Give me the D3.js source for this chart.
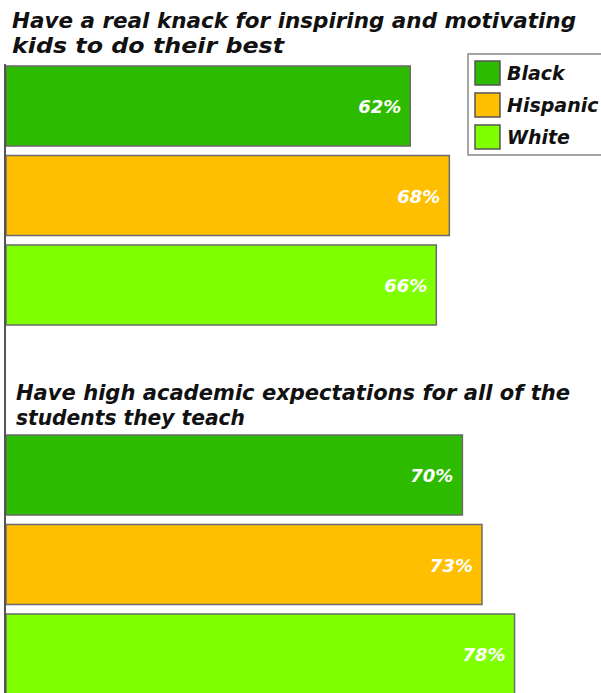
<!DOCTYPE html>
<html>
<head>
<meta charset="utf-8">
<script src="https://cdn.jsdelivr.net/npm/d3@7"></script>
<style>
  body { margin: 0; background: #fff; }
  svg { display: block; }
</style>
</head>
<body>
<svg id="chart" width="601" height="693"></svg>
<script>
// Survey bars: two questions, three groups each
var groups = ["Black", "Hispanic", "White"];
var knackTitle = ["Have a real knack for inspiring and motivating", "kids to do their best"];
var expectTitle = ["Have high academic expectations for all of the", "students they teach"];
var knackValues = [62, 68, 66];
var expectValues = [70, 73, 78];
var groupColors = ["#2dbb00", "#ffbf00", "#80ff00"];

var svg = d3.select('#chart');
var titleFont = "'DejaVu Sans', sans-serif";

var x = d3.scaleLinear()
    .domain([0, 100])
    .range([6, 658]);

var color = d3.scaleOrdinal()
    .domain(groups)
    .range(groupColors);

function drawPanel(title, values, titleY, titleX, titleWidths, barTop) {
    let y = d3.scaleBand()
        .domain(groups)
        .range([barTop, barTop + 259])
        .paddingInner(0.106);

    let g = svg.append('g');

    g.selectAll('text.title')
        .data(title)
        .enter()
    .append('text')
        .attr('class', 'title')
        .attr('x', titleX)
        .attr('y', function (d, i) { return titleY + i * 25; })
        .attr('textLength', function (d, i) { return titleWidths[i]; })
        .attr('lengthAdjust', 'spacingAndGlyphs')
        .attr('font-family', titleFont)
        .attr('font-size', 21)
        .attr('font-weight', 'bold')
        .attr('font-style', 'italic')
        .attr('fill', '#111')
        .text(function (d) { return d; });

    let rows = groups.map(function (k, i) { return { group: k, value: values[i] }; });

    g.selectAll('rect.bar')
        .data(rows)
        .enter()
    .append('rect')
        .attr('class', 'bar')
        .attr('x', x(0))
        .attr('y', function (d) { return y(d.group); })
        .attr('width', function (d) { return x(d.value) - x(0); })
        .attr('height', y.bandwidth())
        .attr('fill', function (d) { return color(d.group); })
        .style('stroke', '#6a6a6a')
        .style('stroke-width', 1.5);

    g.selectAll('text.value')
        .data(rows)
        .enter()
    .append('text')
        .attr('class', 'value')
        .attr('x', function (d) { return x(d.value) - 9; })
        .attr('y', function (d) { return y(d.group) + y.bandwidth() / 2 + 7; })
        .attr('text-anchor', 'end')
        .attr('font-family', titleFont)
        .attr('font-size', 18)
        .attr('font-weight', 'bold')
        .attr('font-style', 'italic')
        .attr('fill', '#fff')
        .text(function (d) { return d.value + '%'; });
}

drawPanel(knackTitle, knackValues, 28, 12, [564, 272], 66);
drawPanel(expectTitle, expectValues, 400, 16, [554, 229], 435);

// left axis line
svg.append('line')
    .attr('x1', 5)
    .attr('x2', 5)
    .attr('y1', 64)
    .attr('y2', 693)
    .style('stroke', '#555')
    .style('stroke-width', 2);

// legend
var legend = svg.append('g').attr('transform', 'translate(468, 54)');
legend.append('rect')
    .attr('x', 0)
    .attr('y', 0)
    .attr('width', 140)
    .attr('height', 101)
    .style('fill', '#fff')
    .style('stroke', '#888')
    .style('stroke-width', 1.5);

var items = legend.selectAll('g.item')
    .data(groups)
    .enter()
.append('g')
    .attr('class', 'item')
    .attr('transform', function (d, i) { return 'translate(7,' + (7 + i * 32) + ')'; });

items.append('rect')
    .attr('width', 25)
    .attr('height', 24)
    .attr('fill', function (d) { return color(d); })
    .style('stroke', '#555')
    .style('stroke-width', 1.5);

items.append('text')
    .attr('x', 32)
    .attr('y', 19)
    .attr('font-family', titleFont)
    .attr('font-size', 19)
    .attr('font-weight', 'bold')
    .attr('font-style', 'italic')
    .attr('fill', '#111')
    .text(function (d) { return d; });
</script>
</body>
</html>
